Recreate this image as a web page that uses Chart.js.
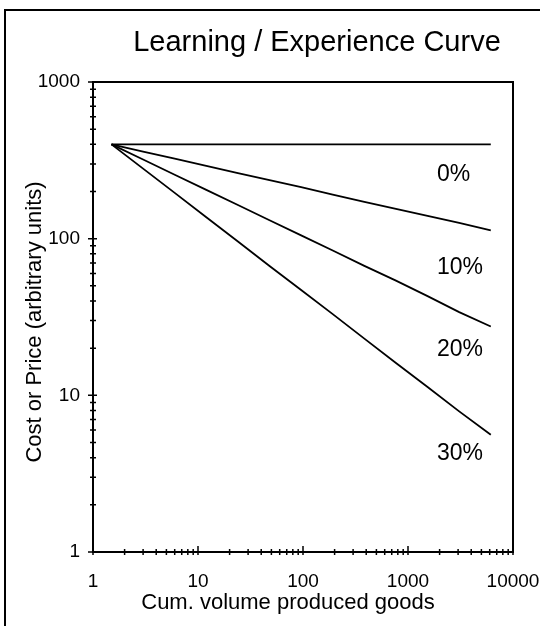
<!DOCTYPE html>
<html lang="en">
<head>
    <meta charset="UTF-8">
    <title>Learning / Experience Curve</title>
    <style>
        html, body { margin: 0; padding: 0; background: #fff; }
        #wrap { width: 540px; height: 626px; position: relative; }
    </style>
    <script src="https://cdn.jsdelivr.net/npm/chart.js"></script>
</head>
<body>
    <div id="wrap"><canvas id="curveChart" width="540" height="626"></canvas></div>

    <script>
        // cumulative volume (doublings from 1.5)
        let volume = [1.5, 3, 6, 12, 24, 48, 96, 192, 384, 768, 1536, 3072, 6144];
        // cost for each learning rate
        let cost0  = [400, 400, 400, 400, 400, 400, 400, 400, 400, 400, 400, 400, 400];
        let cost10 = [400, 360, 324, 292, 262, 236, 213, 191, 172, 155, 140, 126, 113];
        let cost20 = [400, 320, 256, 205, 164, 131, 105, 84, 67, 54, 43, 34, 27.5];
        let cost30 = [400, 280, 196, 137, 96, 67, 47, 33, 23, 16.1, 11.3, 7.9, 5.6];
        let curveNames = ['0%', '10%', '20%', '30%'];
        // where each curve label starts (data units)
        let labelX = [1890, 1890, 1890, 1890];
        let labelY = [255, 65, 19.5, 4.23];
        let xTicks = [1, 10, 100, 1000, 10000];
        let yTicks = [1, 10, 100, 1000];

        const FONT = '"Liberation Sans", Arial, sans-serif';

        function toPoints(ys) {
            return volume.map((v, i) => ({ x: v, y: ys[i] }));
        }

        // frame, crossing tick marks, texts
        const decorPlugin = {
            id: 'decor',
            afterDraw(chart) {
                const ctx = chart.ctx;
                const a = chart.chartArea;
                const xs = chart.scales.x, ys = chart.scales.y;
                ctx.save();
                ctx.strokeStyle = '#000';

                // outer border
                ctx.lineWidth = 2;
                ctx.strokeRect(5, 10, 600, 700);

                // plot frame
                ctx.lineWidth = 2;
                ctx.strokeRect(a.left, a.top, a.right - a.left, a.bottom - a.top);

                // minor + major ticks
                ctx.lineWidth = 1.5;
                ctx.beginPath();
                for (let d = 0; d < xTicks.length; d++) {
                    let base = xTicks[d];
                    let px = xs.getPixelForValue(base);
                    ctx.moveTo(px, a.bottom - 6); ctx.lineTo(px, a.bottom + 3);
                    if (d < xTicks.length - 1) {
                        for (let k = 2; k < 10; k++) {
                            let p = xs.getPixelForValue(base * k);
                            ctx.moveTo(p, a.bottom - 3); ctx.lineTo(p, a.bottom + 3);
                        }
                    }
                }
                for (let d = 0; d < yTicks.length; d++) {
                    let base = yTicks[d];
                    let py = ys.getPixelForValue(base);
                    ctx.moveTo(a.left - 5, py); ctx.lineTo(a.left + 4, py);
                    if (d < yTicks.length - 1) {
                        for (let k = 2; k < 10; k++) {
                            let p = ys.getPixelForValue(base * k);
                            ctx.moveTo(a.left - 3, p); ctx.lineTo(a.left + 3, p);
                        }
                    }
                }
                ctx.stroke();

                ctx.fillStyle = '#000';
                ctx.textBaseline = 'middle';

                // tick labels
                ctx.font = '19px ' + FONT;
                ctx.textAlign = 'center';
                xTicks.forEach(v => ctx.fillText(String(v), xs.getPixelForValue(v), 582));
                ctx.textAlign = 'right';
                yTicks.forEach(v => ctx.fillText(String(v), 80, ys.getPixelForValue(v)));

                // title
                ctx.textAlign = 'center';
                ctx.font = '29px ' + FONT;
                ctx.fillText('Learning / Experience Curve', 317, 43);

                // axis titles
                ctx.font = '22px ' + FONT;
                ctx.fillText('Cum. volume produced goods', 288, 603);
                ctx.save();
                ctx.translate(35, 322);
                ctx.rotate(-Math.PI / 2);
                ctx.fillText('Cost or Price (arbitrary units)', 0, 0);
                ctx.restore();

                // curve labels
                ctx.font = '23px ' + FONT;
                ctx.textAlign = 'left';
                for (let i = 0; i < curveNames.length; i++) {
                    ctx.fillText(curveNames[i], xs.getPixelForValue(labelX[i]), ys.getPixelForValue(labelY[i]));
                }
                ctx.restore();
            }
        };

        let lineStyle = {
            borderColor: '#000',
            borderWidth: 1.8,
            pointRadius: 0,
            fill: false,
            tension: 0
        };

        let curveCtx = document.getElementById('curveChart').getContext('2d');
        let curveChart = new Chart(curveCtx, {
            type: 'line',
            data: {
                datasets: [
                    Object.assign({ label: curveNames[0], data: toPoints(cost0) }, lineStyle),
                    Object.assign({ label: curveNames[1], data: toPoints(cost10) }, lineStyle),
                    Object.assign({ label: curveNames[2], data: toPoints(cost20) }, lineStyle),
                    Object.assign({ label: curveNames[3], data: toPoints(cost30) }, lineStyle)
                ]
            },
            options: {
                responsive: false,
                animation: false,
                layout: { padding: { left: 0, top: 82, right: 27, bottom: 0 } },
                plugins: {
                    legend: { display: false },
                    tooltip: { enabled: false }
                },
                scales: {
                    x: {
                        type: 'logarithmic',
                        min: 1,
                        max: 10000,
                        grid: { display: false, drawTicks: false },
                        border: { display: false },
                        ticks: { display: false },
                        afterFit: s => { s.height = 74; }
                    },
                    y: {
                        type: 'logarithmic',
                        min: 1,
                        max: 1000,
                        grid: { display: false, drawTicks: false },
                        border: { display: false },
                        ticks: { display: false },
                        afterFit: s => { s.width = 93; }
                    }
                }
            },
            plugins: [decorPlugin]
        });
    </script>
</body>
</html>
